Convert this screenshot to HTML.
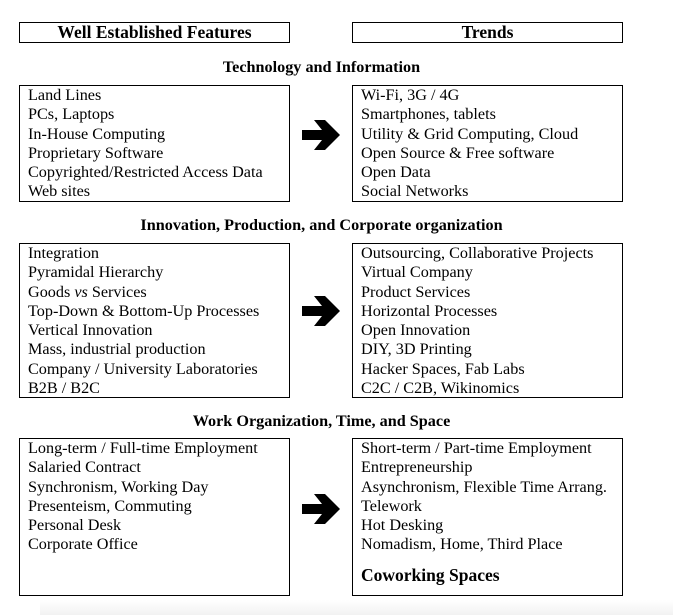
<!DOCTYPE html>
<html><head><meta charset="utf-8">
<style>
body{margin:0;width:673px;height:615px;background:#fff;position:relative;overflow:hidden;font-family:"Liberation Serif",serif;color:#000}
.box{position:absolute;border:1px solid #000;box-sizing:border-box}
.hdr{font-weight:bold;font-size:17.5px;text-align:center;line-height:19px}
.sec{position:absolute;left:0;width:643px;text-align:center;font-weight:bold;font-size:16.2px}
.list{padding:0 0 0 8px;font-size:16.2px;line-height:19.3px;white-space:nowrap}
.arrow{position:absolute;left:302px;width:38px;height:30px}
.shadow{position:absolute;left:40px;right:0;top:600px;height:15px;background:linear-gradient(#fff,#f2f2f2)}
</style></head><body>
<div class="shadow"></div>
<div class="box hdr" style="left:19px;top:22px;width:271px;height:21px">Well Established Features</div>
<div class="box hdr" style="left:352px;top:22px;width:271px;height:21px">Trends</div>

<div class="sec" style="top:58px">Technology and Information</div>
<div class="box list" style="left:19px;top:85px;width:271px;height:117px">Land Lines<br>PCs, Laptops<br>In-House Computing<br>Proprietary Software<br>Copyrighted/Restricted Access Data<br>Web sites</div>
<div class="box list" style="left:352px;top:85px;width:271px;height:117px">Wi-Fi, 3G / 4G<br>Smartphones, tablets<br>Utility &amp; Grid Computing, Cloud<br>Open Source &amp; Free software<br>Open Data<br>Social Networks</div>
<svg class="arrow" style="top:120px" viewBox="0 0 38 30"><path d="M0 10H20L12 0H23L38 15L23 30H12L20 20H0Z" fill="#000"/></svg>

<div class="sec" style="top:216px">Innovation, Production, and Corporate organization</div>
<div class="box list" style="left:19px;top:243px;width:271px;height:155px">Integration<br>Pyramidal Hierarchy<br>Goods <i>vs</i> Services<br>Top-Down &amp; Bottom-Up Processes<br>Vertical Innovation<br>Mass, industrial production<br>Company / University Laboratories<br>B2B / B2C</div>
<div class="box list" style="left:352px;top:243px;width:271px;height:155px">Outsourcing, Collaborative Projects<br>Virtual Company<br>Product Services<br>Horizontal Processes<br>Open Innovation<br>DIY, 3D Printing<br>Hacker Spaces, Fab Labs<br>C2C / C2B, Wikinomics</div>
<svg class="arrow" style="top:296px" viewBox="0 0 38 30"><path d="M0 10H20L12 0H23L38 15L23 30H12L20 20H0Z" fill="#000"/></svg>

<div class="sec" style="top:412px">Work Organization, Time, and Space</div>
<div class="box list" style="left:19px;top:438px;width:271px;height:158px">Long-term / Full-time Employment<br>Salaried Contract<br>Synchronism, Working Day<br>Presenteism, Commuting<br>Personal Desk<br>Corporate Office</div>
<div class="box list" style="left:352px;top:438px;width:271px;height:158px">Short-term / Part-time Employment<br>Entrepreneurship<br>Asynchronism, Flexible Time Arrang.<br>Telework<br>Hot Desking<br>Nomadism, Home, Third Place<div style="font-weight:bold;font-size:17.5px;margin-top:11px">Coworking Spaces</div></div>
<svg class="arrow" style="top:494px" viewBox="0 0 38 30"><path d="M0 10H20L12 0H23L38 15L23 30H12L20 20H0Z" fill="#000"/></svg>
</body></html>
